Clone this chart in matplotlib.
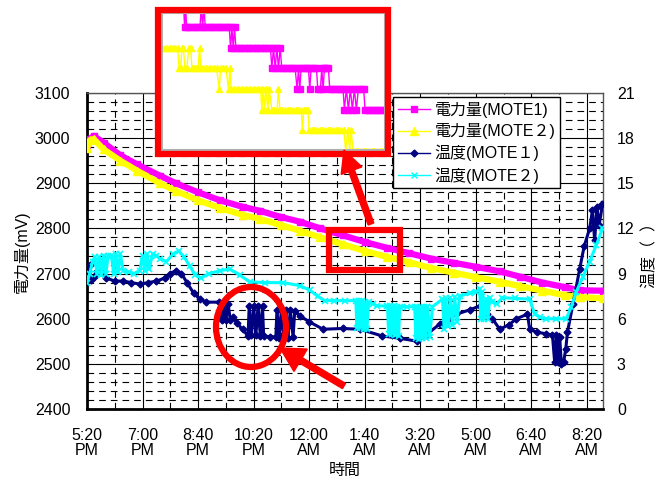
import numpy as np
import matplotlib
matplotlib.use("Agg")
import matplotlib.pyplot as plt
from matplotlib.lines import Line2D
from matplotlib.patches import Rectangle, Ellipse, FancyArrow

plt.rcParams['font.family'] = ['Liberation Sans', 'Noto Sans CJK JP']

# time axis: minutes after 5:20 PM
tick_minutes = [0, 100, 200, 300, 400, 500, 600, 700, 800, 900]
tick_labels = ['5:20\nPM', '7:00\nPM', '8:40\nPM', '10:20\nPM', '12:00\nAM',
               '1:40\nAM', '3:20\nAM', '5:00\nAM', '6:40\nAM', '8:20\nAM']

# power, MOTE1 (mV)
p1_t = [0, 5, 12, 30, 60, 90, 131, 160, 200, 240, 280, 311, 350, 383, 420, 460,
        500, 540, 580, 620, 660, 700, 743, 780, 820, 860, 887, 929]
p1_v = [2985, 2998, 3005, 2990, 2962, 2942, 2917, 2900, 2880, 2862, 2848, 2839,
        2825, 2815, 2800, 2785, 2770, 2757, 2745, 2733, 2724, 2715, 2705, 2693,
        2680, 2670, 2663, 2662]

# power, MOTE2 (mV)
p2_t = [0, 5, 12, 30, 60, 90, 131, 160, 200, 240, 280, 311, 350, 383, 420, 460,
        500, 540, 580, 620, 660, 700, 743, 780, 820, 860, 887, 929]
p2_v = [2978, 2995, 2998, 2975, 2950, 2928, 2900, 2883, 2862, 2845, 2830, 2821,
        2807, 2795, 2780, 2765, 2750, 2737, 2725, 2712, 2702, 2692, 2682, 2672,
        2662, 2652, 2648, 2645]

# temperature, MOTE1
t1_t = [0, 3, 5, 7, 12, 18, 25, 35, 50, 65, 80, 95, 110, 125, 140, 150, 160, 170,
        180, 192, 203, 215, 238, 243, 246, 250, 254, 258, 263, 270, 280, 290, 292,
        296, 300, 304, 308, 312, 316, 318, 330, 340, 342, 346, 350, 354, 358, 362,
        366, 371, 374, 383, 400, 425, 460, 491, 532, 563, 595, 610, 635, 650, 665,
        690, 707, 720, 730, 743, 760, 773, 793, 797, 810, 827, 838, 842, 845, 848,
        851, 854, 858, 862, 865, 875, 887, 895, 905, 910, 914, 918, 922, 928]
t1_v = [8.6, 8.7, 9.6, 8.6, 8.8, 9.2, 9.1, 8.7, 8.5, 8.5, 8.4, 8.3, 8.4, 8.5, 8.7,
        9.0, 9.2, 9.0, 8.4, 7.7, 7.3, 7.1, 7.1, 5.9, 7.0, 5.9, 7.0, 5.9, 6.1, 5.7,
        5.3, 4.85, 6.85, 4.9, 6.85, 4.9, 6.85, 4.85, 6.85, 4.85, 4.8, 4.8, 6.6,
        4.75, 6.6, 4.75, 6.6, 4.75, 6.6, 4.8, 6.5, 6.2, 5.8, 5.3, 5.35, 5.3, 4.85,
        4.7, 4.5, 4.9, 5.65, 6.0, 6.3, 6.6, 6.85, 6.3, 6.0, 5.3, 5.6, 6.0, 6.3, 5.3,
        5.1, 5.0, 4.9, 3.1, 4.9, 3.1, 4.8, 3.0, 3.1, 4.0, 5.1, 7.0, 9.3, 10.8, 12.0,
        13.2, 11.2, 13.4, 12.2, 13.6]

# temperature, MOTE2
t2_t = [0, 5, 10, 14, 18, 22, 26, 30, 34, 38, 44, 48, 52, 56, 60, 65, 75, 85, 95,
        100, 104, 108, 112, 118, 125, 131, 143, 155, 165, 175, 185, 195, 205, 220,
        240, 257, 275, 293, 320, 353, 383, 401, 415, 428, 445, 465, 484, 486, 489,
        492, 495, 498, 501, 504, 507, 515, 522, 541, 543, 546, 549, 552, 555, 558,
        561, 563, 576, 590, 592, 595, 598, 601, 604, 607, 610, 613, 617, 622, 640,
        643, 646, 650, 654, 658, 662, 666, 671, 690, 701, 707, 709, 712, 715, 719,
        722, 725, 730, 738, 748, 770, 797, 806, 815, 827, 845, 863, 872, 881, 893,
        905, 917, 928]
t2_v = [8.4, 9.0, 9.8, 10.1, 9.0, 10.1, 8.9, 10.2, 9.0, 10.2, 10.2, 9.0, 10.3,
        9.1, 10.3, 9.2, 9.1, 9.0, 9.2, 10.2, 9.2, 10.3, 9.3, 10.3, 10.2, 10.0, 9.8,
        10.3, 10.5, 10.1, 9.5, 8.9, 8.7, 9.0, 9.2, 9.3, 8.9, 8.45, 8.4, 8.4, 8.2,
        7.9, 7.5, 7.2, 7.2, 7.2, 7.2, 5.4, 7.2, 5.4, 7.2, 5.3, 7.1, 5.3, 7.1, 7.0,
        6.85, 6.85, 5.0, 6.85, 5.0, 6.85, 4.9, 6.8, 4.85, 6.8, 6.8, 6.8, 4.7, 6.8,
        4.65, 6.8, 4.7, 6.8, 4.75, 6.8, 4.8, 6.8, 7.3, 5.3, 7.35, 5.5, 7.4, 5.6,
        7.45, 5.8, 7.5, 7.7, 7.8, 8.0, 6.0, 7.8, 6.0, 7.3, 6.0, 7.4, 7.1, 7.0, 7.4,
        7.35, 7.3, 6.3, 6.1, 6.0, 6.0, 6.0, 6.8, 7.8, 8.8, 9.8, 10.9, 12.0]

# zoomed view (step levels, sample position)
z1_x = [65, 68, 71, 74, 82, 90, 98, 106, 114, 118, 122, 126, 130, 138, 146, 154,
        162, 170, 178, 186, 194, 202, 206, 210, 214, 218, 222, 230, 238, 246, 254,
        262, 270, 278, 286, 294, 302, 310, 318, 326, 330, 335, 340, 345, 350, 355,
        360, 368, 376, 384, 392, 400, 406, 410, 414, 418, 426, 434, 440, 444, 448,
        456, 464, 468, 476, 480, 484, 488, 492, 500, 504, 512, 520, 528, 536, 544,
        548, 554, 560, 566, 572, 578, 584, 590, 598, 606, 610, 618, 626, 634, 642,
        650, 658, 666]
z1_lv = [0, 1, 0, 1, 1, 1, 1, 1, 1, 0, 1, 0, 1, 1, 1, 1, 1, 1, 1, 1, 1, 1, 2, 1,
         2, 1, 2, 2, 2, 2, 2, 2, 2, 2, 2, 2, 2, 2, 2, 2, 3, 2, 3, 2, 3, 2, 3, 3,
         3, 3, 3, 3, 4, 3, 4, 3, 3, 3, 3, 4, 3, 3, 3, 4, 4, 3, 4, 3, 3, 3, 4, 4,
         4, 4, 4, 4, 5, 4, 5, 4, 5, 4, 5, 4, 4, 4, 5, 5, 5, 5, 5, 5, 5, 5]
z2_x = [0, 8, 16, 24, 32, 40, 47, 51, 56, 60, 64, 69, 75, 80, 86, 90, 96, 102, 108,
        113, 117, 124, 132, 140, 148, 156, 164, 172, 176, 184, 192, 200, 204, 208,
        216, 224, 232, 240, 248, 256, 264, 272, 280, 288, 296, 300, 304, 308, 312,
        318, 322, 330, 338, 346, 350, 354, 362, 370, 378, 386, 394, 402, 410, 418,
        422, 426, 432, 438, 442, 450, 458, 466, 474, 482, 490, 498, 506, 514, 522,
        530, 538, 546, 552, 558, 564, 568, 574, 582, 590, 598, 606, 614, 622, 630,
        638, 646, 654, 662, 670]
z2_lv = [2, 2, 2, 2, 2, 2, 2, 3, 3, 2, 2, 3, 3, 2, 2, 3, 3, 3, 3, 2, 3, 3, 3, 3,
         3, 3, 3, 4, 3, 3, 3, 4, 3, 4, 4, 4, 4, 4, 4, 4, 4, 4, 4, 4, 4, 5, 4, 5,
         4, 5, 4, 5, 5, 5, 4, 5, 5, 5, 5, 5, 5, 5, 5, 5, 6, 5, 5, 5, 6, 6, 6, 6,
         6, 6, 6, 6, 6, 6, 6, 6, 6, 6, 7, 6, 7, 6, 7, 7, 7, 7, 7, 7, 7, 7, 7, 7,
         7, 7, 7]

MAG, YEL, NAV, CYA = '#FF00FF', '#FFFF00', '#000080', '#00FFFF'
W, H = 669, 479

fig = plt.figure(figsize=(6.69, 4.79), dpi=100)

def px(x0, y0, x1, y1):
    # pixel box -> figure fraction [left, bottom, width, height]
    return [x0 / W, 1 - y1 / H, (x1 - x0) / W, (y1 - y0) / H]

ax = fig.add_axes(px(87, 93, 603, 409))
ax.set_xlim(0, 929)
ax.set_ylim(2400, 3100)
ax.set_xticks(tick_minutes)
ax.set_xticklabels(tick_labels, fontsize=11.5, linespacing=1.0)
ax.set_xticks(np.arange(50, 900, 100), minor=True)
ax.set_yticks(np.arange(2400, 3101, 100))
ax.set_yticks(np.arange(2400, 3100, 20), minor=True)
ax.tick_params(axis='y', labelsize=11.5, length=0, pad=12)
ax.tick_params(axis='x', length=0, pad=14)
ax.tick_params(which='minor', length=0)
ax.grid(which='major', color='black', lw=0.8)
ax.grid(which='minor', color='black', lw=0.8, ls=(0, (6, 4.5)))
for s in ['left', 'bottom']:
    ax.spines[s].set_linewidth(2)
for s in ['top', 'right']:
    ax.spines[s].set_linewidth(1)
    ax.spines[s].set_color('#555555')

ax.plot(p1_t, p1_v, color=MAG, lw=4.5, marker='s', ms=5, mec=MAG, zorder=3)
ax.plot(p2_t, p2_v, color=YEL, lw=4.5, marker='^', ms=5.5, mec=YEL, zorder=4)

ax2 = ax.twinx()
ax2.set_ylim(0, 21)
ax2.set_yticks(np.arange(0, 22, 3))
ax2.tick_params(axis='y', labelsize=11.5, length=0, pad=10)
for s in ax2.spines.values():
    s.set_visible(False)
ax2.plot(t1_t, t1_v, color=NAV, lw=2.2, marker='D', ms=3.5, mec=NAV)
ax2.plot(t2_t, t2_v, color=CYA, lw=2.2, marker='x', ms=4.5, mew=1.2)

fig.text(22 / W, 1 - 252 / H, '電力量(mV)', rotation=90, ha='center', va='center', fontsize=11.5)
fig.text(650 / W, 1 - 252 / H, '温度（  ）', rotation=90, ha='center', va='center', fontsize=11.5)
fig.text(345 / W, 1 - 470 / H, '時間', ha='center', va='center', fontsize=11.5)

handles = [
    Line2D([], [], color=MAG, marker='s', ms=5, lw=1),
    Line2D([], [], color=YEL, marker='^', ms=5.5, lw=1),
    Line2D([], [], color=NAV, marker='D', ms=3.5, lw=1),
    Line2D([], [], color=CYA, marker='x', ms=4.5, lw=1),
]
names = ['電力量(MOTE1)', '電力量(MOTE２)', '温度(MOTE１)', '温度(MOTE２)']
leg = ax2.legend(handles, names, loc='upper left', bbox_to_anchor=(393 / W, 1 - 97 / H),
                 bbox_transform=fig.transFigure, fontsize=11.5, frameon=True, fancybox=False,
                 edgecolor='black', framealpha=1, borderpad=0.3, labelspacing=0.35,
                 handlelength=2.0, handletextpad=0.3, borderaxespad=0)
leg.get_frame().set_linewidth(1)
leg.set_zorder(20)

# zoomed inset
axz = fig.add_axes(px(162, 13, 385, 150), zorder=5)
axz.set_xlim(0, 670)
axz.set_ylim(6.97, 0.3)
axz.set_xticks([])
axz.set_yticks([])
for s in axz.spines.values():
    s.set_color('#b0b0b0')
    s.set_linewidth(1.5)
axz.plot(z1_x, z1_lv, color=MAG, lw=1, marker='s', ms=4.5, mec=MAG)
axz.plot(z2_x, z2_lv, color=YEL, lw=1, marker='^', ms=5, mec=YEL)

# red annotation overlay
ov = fig.add_axes([0, 0, 1, 1], zorder=10)
ov.set_xlim(0, W)
ov.set_ylim(H, 0)
ov.axis('off')
ov.add_patch(Rectangle((158, 10), 230, 144, fill=False, ec='red', lw=4.5))
ov.add_patch(Rectangle((328.5, 230), 71, 40, fill=False, ec='red', lw=4.5))
ov.add_patch(Ellipse((251, 327), 70, 80, fill=False, ec='red', lw=4.5))
ov.add_patch(FancyArrow(371, 224, -27, -74, width=6, head_width=22, head_length=22,
                        length_includes_head=True, color='red'))
ov.add_patch(FancyArrow(344, 386, -64, -38, width=6, head_width=26, head_length=24,
                        length_includes_head=True, color='red'))

fig.savefig('out.png', dpi=100)
